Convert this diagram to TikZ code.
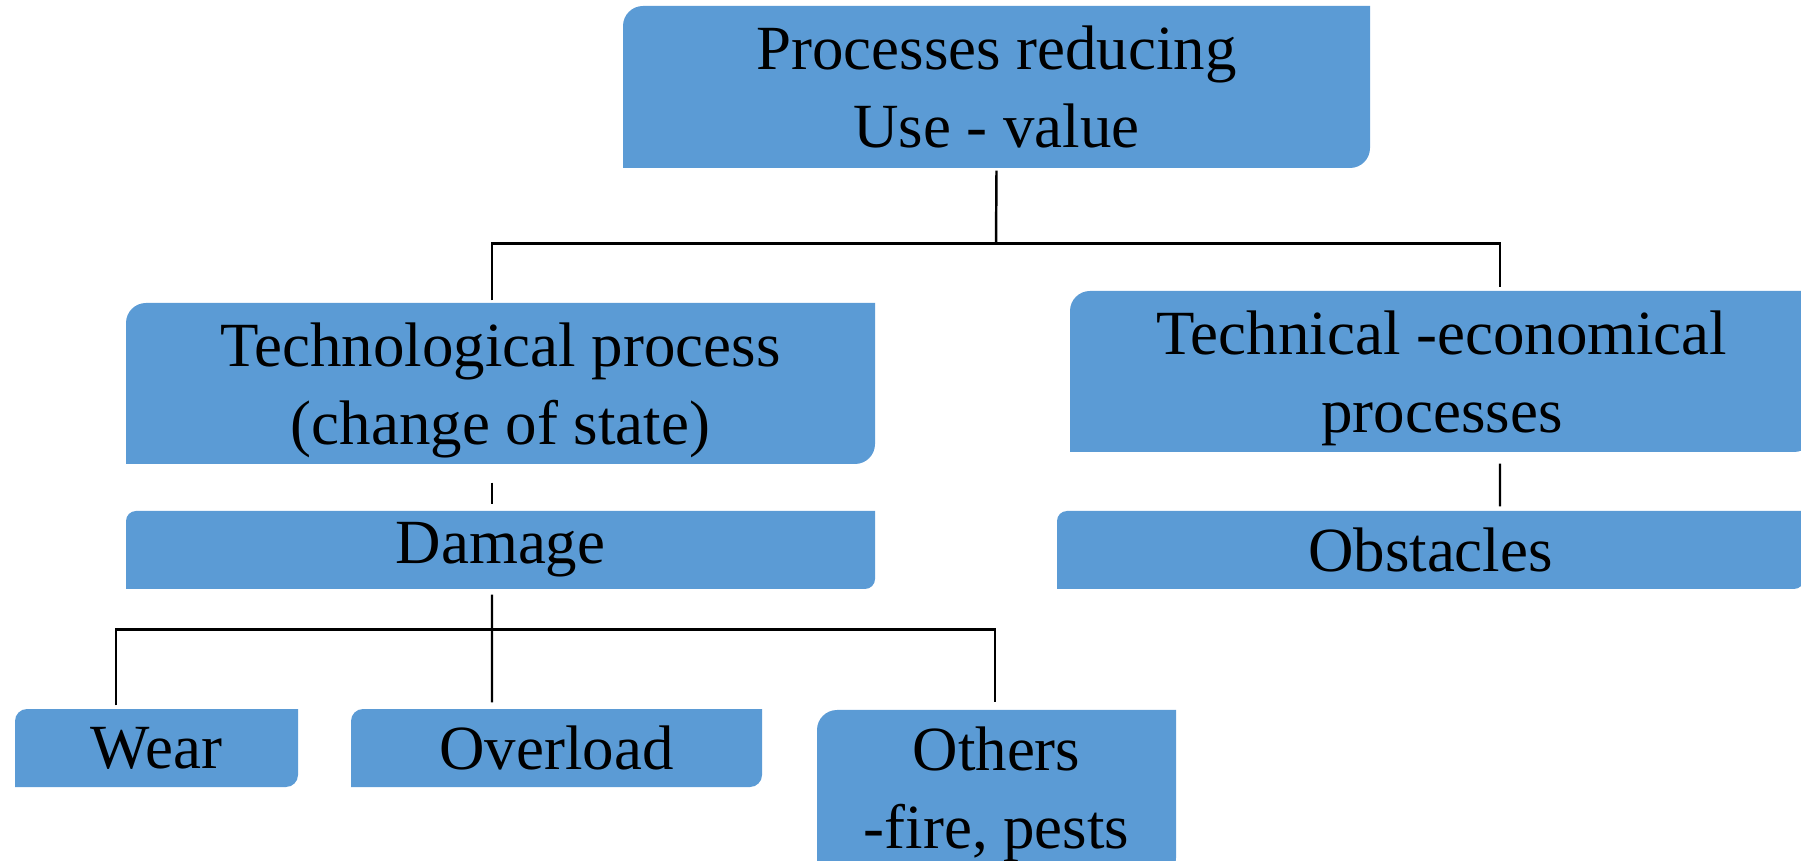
\documentclass[tikz,border=0pt]{standalone}
\usepackage{fontspec}
\setmainfont{Liberation Serif}
\usepackage{tikz}
\usetikzlibrary{calc}
\definecolor{tabblue}{HTML}{5B9BD5}
\tikzset{
	tab/.style={inner sep=0pt, align=center, font=\rmfamily\fontsize{17.9}{22.2}\selectfont,
		path picture={\fill[tabblue] (path picture bounding box.south west)
			-- ([yshift=-#1]path picture bounding box.north west)
			arc[start angle=180, end angle=90, radius=#1]
			-- (path picture bounding box.north east)
			-- ([yshift=#1]path picture bounding box.south east)
			arc[start angle=0, end angle=-90, radius=#1] -- cycle;}},
	tab/.default=0.2cm,
	link/.style={line width=0.7pt, color=black}
}

\begin{document}
\begin{tikzpicture}
			%%%%% START %%%%%
			\useasboundingbox (0, 0) rectangle (18.01, 8.6);
			
			\node[tab, minimum width=7.47cm, minimum height=1.62cm] (top) at (9.965, 7.73) {Processes reducing\\Use - value};
			
			\node[tab, text height=38.8pt, minimum width=7.49cm, minimum height=1.61cm] (tech) at (5.005, 4.765) {Technological process\\(change of state)};
			\node[tab, text height=38.8pt, minimum width=7.44cm, minimum height=1.61cm] (teco) at (14.42, 4.885) {Technical -economical\\processes};
			
			\node[tab=0.1cm, minimum width=7.49cm, minimum height=0.78cm] (dmg) at (5.005, 3.10) {Damage};
			\node[tab=0.1cm, minimum width=7.47cm, minimum height=0.78cm] (obst) at (14.305, 3.10) {Obstacles};
			
			\node[tab=0.12cm, minimum width=2.83cm, minimum height=0.78cm] (wear) at (1.565, 1.12) {Wear};
			\node[tab=0.12cm, minimum width=4.11cm, minimum height=0.78cm] (over) at (5.565, 1.12) {Overload};
			\node[tab, minimum width=3.59cm, minimum height=1.68cm] (others) at (9.965, 0.66) {Others\\-fire, pests};
			
			\coordinate (busA) at (9.96, 6.165);
			\coordinate (busB) at (4.92, 2.305);
			
			% first level
			\draw[link] ([yshift=-0.2mm]top.south) -- (busA);
			\draw[link] ([xshift=-0.85mm, yshift=0.2mm]tech.north) |- ([xshift=5.8mm]teco.north |- busA) -- ([xshift=5.8mm, yshift=0.3mm]teco.north);
			
			% second level
			\draw[link] ([xshift=-0.85mm, yshift=-1.8mm]tech.south) -- ([xshift=-0.85mm, yshift=0.6mm]dmg.north);
			\draw[link] ([xshift=5.8mm, yshift=-1.1mm]teco.south) -- ([xshift=6.95mm, yshift=0.4mm]obst.north);
			
			% third level
			\draw[link] ([xshift=-0.85mm, yshift=-0.5mm]dmg.south) -- ([xshift=-6.45mm, yshift=0.6mm]over.north);
			\draw[link] ([xshift=-4.05mm, yshift=0.3mm]wear.north) |- ([xshift=-0.15mm]others.north |- busB) -- ([xshift=-0.15mm, yshift=0.7mm]others.north);
			
			%%%%% END %%%%%
\end{tikzpicture}
\end{document}
